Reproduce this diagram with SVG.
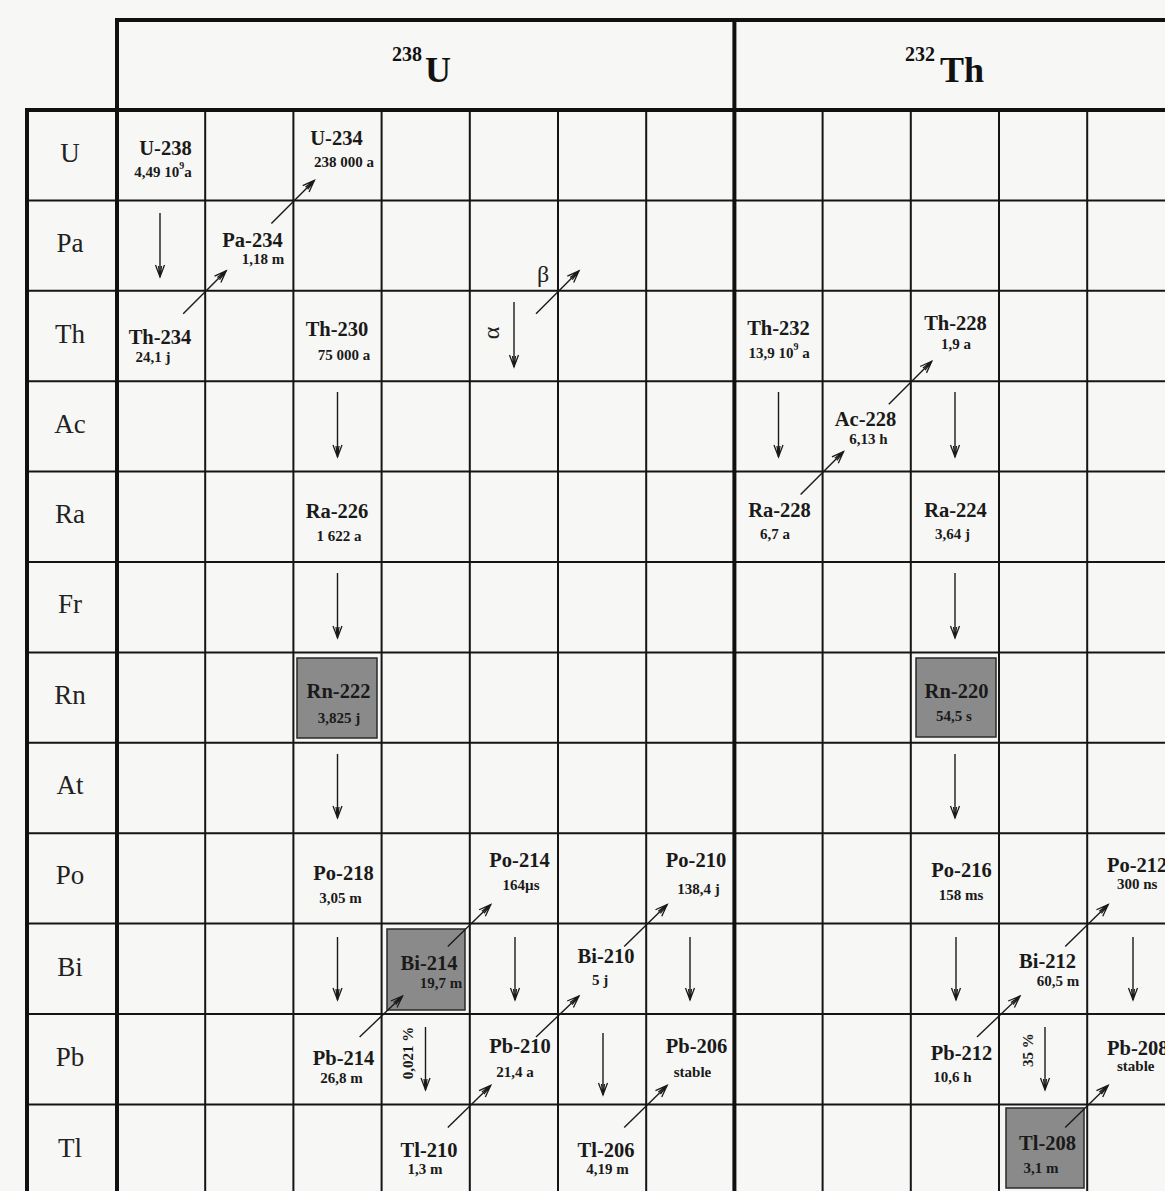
<svg xmlns="http://www.w3.org/2000/svg" width="1165" height="1191" viewBox="0 0 1165 1191">
<defs>
<marker id="ah" viewBox="-14 -7 16 14" markerWidth="16" markerHeight="14" refX="0" refY="0" orient="auto" markerUnits="userSpaceOnUse">
<path d="M-12,-4.5 L0,0 L-12,4.5 M-11,-1.5 L0,0 L-11,1.5" fill="none" stroke="#1a1a1a" stroke-width="1.3"/>
</marker>
<style>
.thin{stroke:#151515;stroke-width:2;fill:none}
.thick{stroke:#111;stroke-width:4;fill:none}
.row{font-family:"Liberation Serif","Times New Roman",serif;font-size:27px;fill:#222;text-anchor:middle}
.nm{font-family:"Liberation Serif","Times New Roman",serif;font-size:20.5px;font-weight:bold;fill:#1a1a1a;text-anchor:middle}
.hl{font-family:"Liberation Serif","Times New Roman",serif;font-size:15px;font-weight:bold;fill:#1a1a1a;text-anchor:middle}
.st{text-anchor:start}
.hd{font-family:"Liberation Serif","Times New Roman",serif;font-weight:bold;fill:#111}
.gk{font-family:"Liberation Serif","Times New Roman",serif;font-size:24px;fill:#222;text-anchor:middle}
.box{fill:#8a8a8a;stroke:#2a2a2a;stroke-width:1.5}
.arr{stroke:#1a1a1a;stroke-width:1.4;fill:none;marker-end:url(#ah)}
</style>
</defs>
<rect x="0" y="0" width="1165" height="1191" fill="#f7f7f5"/>

<g id="grid">
<path class="thin" d="M205.2,110V1191 M293.4,110V1191 M381.6,110V1191 M469.8,110V1191 M558,110V1191 M646.2,110V1191 M822.6,110V1191 M910.8,110V1191 M999,110V1191 M1087.2,110V1191"/>
<path class="thin" d="M27,200.4H1165 M27,290.8H1165 M27,381.2H1165 M27,471.6H1165 M27,562H1165 M27,652.4H1165 M27,742.8H1165 M27,833.2H1165 M27,923.6H1165 M27,1014H1165 M27,1104.4H1165"/>
<path class="thick" d="M117,1191V20H1165 M27,1191V110H1165 M734.4,20V1191"/>
</g>

<g id="header">
<text class="hd" x="392" y="61" font-size="20">238</text>
<text class="hd" x="425" y="82" font-size="36">U</text>
<text class="hd" x="905" y="61" font-size="20">232</text>
<text class="hd" x="940" y="82" font-size="36">Th</text>
</g>

<g id="row-labels">
<text class="row" x="70" y="162">U</text>
<text class="row" x="70" y="252">Pa</text>
<text class="row" x="70" y="343">Th</text>
<text class="row" x="70" y="433">Ac</text>
<text class="row" x="70" y="523">Ra</text>
<text class="row" x="70" y="613">Fr</text>
<text class="row" x="70" y="704">Rn</text>
<text class="row" x="70" y="794">At</text>
<text class="row" x="70" y="884">Po</text>
<text class="row" x="70" y="976">Bi</text>
<text class="row" x="70" y="1066">Pb</text>
<text class="row" x="70" y="1157">Tl</text>
</g>

<g id="U-238"><text class="nm" x="165.5" y="155">U-238</text><text class="hl" x="163" y="177">4,49 10<tspan dy="-8" font-size="10">9</tspan><tspan dy="8">a</tspan></text></g>
<g id="U-234"><text class="nm" x="336.5" y="145">U-234</text><text class="hl" x="344" y="167">238 000 a</text></g>
<g id="Pa-234"><text class="nm" x="252.5" y="247">Pa-234</text><text class="hl" x="263" y="264">1,18 m</text></g>
<g id="Th-234"><text class="nm" x="160" y="344">Th-234</text><text class="hl" x="153" y="362">24,1 j</text></g>
<g id="Th-230"><text class="nm" x="337" y="336">Th-230</text><text class="hl" x="344" y="360">75 000 a</text></g>
<g id="Th-232"><text class="nm" x="778.5" y="335">Th-232</text><text class="hl" x="779" y="358">13,9 10<tspan dy="-8" font-size="10">9</tspan><tspan dy="8"> a</tspan></text></g>
<g id="Th-228"><text class="nm" x="955.5" y="330">Th-228</text><text class="hl" x="956" y="349">1,9 a</text></g>
<g id="Ac-228"><text class="nm" x="865.5" y="426">Ac-228</text><text class="hl" x="868.5" y="444">6,13 h</text></g>
<g id="Ra-226"><text class="nm" x="337" y="518">Ra-226</text><text class="hl" x="339" y="541">1 622 a</text></g>
<g id="Ra-228"><text class="nm" x="779.5" y="517">Ra-228</text><text class="hl" x="775" y="539">6,7 a</text></g>
<g id="Ra-224"><text class="nm" x="955.5" y="517">Ra-224</text><text class="hl" x="952.5" y="539">3,64 j</text></g>
<g id="Rn-222"><rect class="box" x="297" y="658" width="80" height="80"/><text class="nm" x="338.5" y="698">Rn-222</text><text class="hl" x="339" y="723">3,825 j</text></g>
<g id="Rn-220"><rect class="box" x="916" y="658" width="80" height="79"/><text class="nm" x="956.5" y="698">Rn-220</text><text class="hl" x="954" y="721">54,5 s</text></g>
<g id="Po-218"><text class="nm" x="343.5" y="880">Po-218</text><text class="hl" x="340.5" y="903">3,05 m</text></g>
<g id="Po-214"><text class="nm" x="519.5" y="867">Po-214</text><text class="hl" x="521" y="890">164µs</text></g>
<g id="Po-210"><text class="nm" x="696" y="867">Po-210</text><text class="hl" x="698.5" y="894">138,4 j</text></g>
<g id="Po-216"><text class="nm" x="961.5" y="877">Po-216</text><text class="hl" x="961" y="900">158 ms</text></g>
<g id="Po-212"><text class="nm st" x="1107" y="872">Po-212</text><text class="hl st" x="1117" y="889">300 ns</text></g>
<g id="Bi-214"><rect class="box" x="387" y="929" width="78" height="81"/><text class="nm" x="429" y="970">Bi-214</text><text class="hl" x="441" y="988">19,7 m</text></g>
<g id="Bi-210"><text class="nm" x="606" y="963">Bi-210</text><text class="hl" x="600" y="985">5 j</text></g>
<g id="Bi-212"><text class="nm" x="1047.5" y="968">Bi-212</text><text class="hl" x="1058" y="986">60,5 m</text></g>
<g id="Pb-214"><text class="nm" x="343.5" y="1065">Pb-214</text><text class="hl" x="341.5" y="1083">26,8 m</text></g>
<g id="Pb-210"><text class="nm" x="520" y="1053">Pb-210</text><text class="hl" x="515" y="1077">21,4 a</text></g>
<g id="Pb-206"><text class="nm" x="696.5" y="1053">Pb-206</text><text class="hl" x="692.5" y="1077">stable</text></g>
<g id="Pb-212"><text class="nm" x="961.5" y="1060">Pb-212</text><text class="hl" x="952.5" y="1082">10,6 h</text></g>
<g id="Pb-208"><text class="nm st" x="1107" y="1055">Pb-208</text><text class="hl st" x="1117" y="1071">stable</text></g>
<g id="Tl-210"><text class="nm" x="429" y="1157">Tl-210</text><text class="hl" x="425" y="1174">1,3 m</text></g>
<g id="Tl-206"><text class="nm" x="606" y="1157">Tl-206</text><text class="hl" x="607.5" y="1174">4,19 m</text></g>
<g id="Tl-208"><rect class="box" x="1006" y="1108" width="78" height="80"/><text class="nm" x="1047.5" y="1150">Tl-208</text><text class="hl" x="1041" y="1173">3,1 m</text></g>

<g id="legend">
<text class="gk" x="543" y="282">β</text>
<text class="gk" transform="translate(499,333) rotate(-90)">α</text>
<text class="hl" transform="translate(413,1053) rotate(-90)">0,021 %</text>
<text class="hl" transform="translate(1033,1050) rotate(-90)">35 %</text>
</g>

<g id="connectors">
<path class="arr" d="M160,213V277"/>
<path class="arr" d="M337.5,392V457"/>
<path class="arr" d="M337.5,573V638"/>
<path class="arr" d="M337.5,754V818"/>
<path class="arr" d="M337.5,937V1000"/>
<path class="arr" d="M514,302V367"/>
<path class="arr" d="M515,937V1000"/>
<path class="arr" d="M690,937V1000"/>
<path class="arr" d="M425.5,1027V1090"/>
<path class="arr" d="M603,1033V1095"/>
<path class="arr" d="M778.5,392V457"/>
<path class="arr" d="M955,392V457"/>
<path class="arr" d="M955,573V638"/>
<path class="arr" d="M955,754V818"/>
<path class="arr" d="M956,937V1000"/>
<path class="arr" d="M1133,937V1000"/>
<path class="arr" d="M1045,1027V1090"/>
<path class="arr" d="M183.2,313.8L226.2,270.8"/>
<path class="arr" d="M271.4,223.4L314.4,180.4"/>
<path class="arr" d="M536,313.8L579,270.8"/>
<path class="arr" d="M800.6,494.6L843.6,451.6"/>
<path class="arr" d="M888.8,404.2L931.8,361.2"/>
<path class="arr" d="M359.6,1037L402.6,996"/>
<path class="arr" d="M447.8,946.6L490.8,904.6"/>
<path class="arr" d="M447.8,1127.4L490.8,1085.4"/>
<path class="arr" d="M536,1037L579,996"/>
<path class="arr" d="M624.2,946.6L667.2,904.6"/>
<path class="arr" d="M624.2,1127.4L667.2,1085.4"/>
<path class="arr" d="M977,1037L1020,996"/>
<path class="arr" d="M1065.2,946.6L1108.2,904.6"/>
<path class="arr" d="M1065.2,1127.4L1108.2,1085.4"/>
</g>
</svg>
